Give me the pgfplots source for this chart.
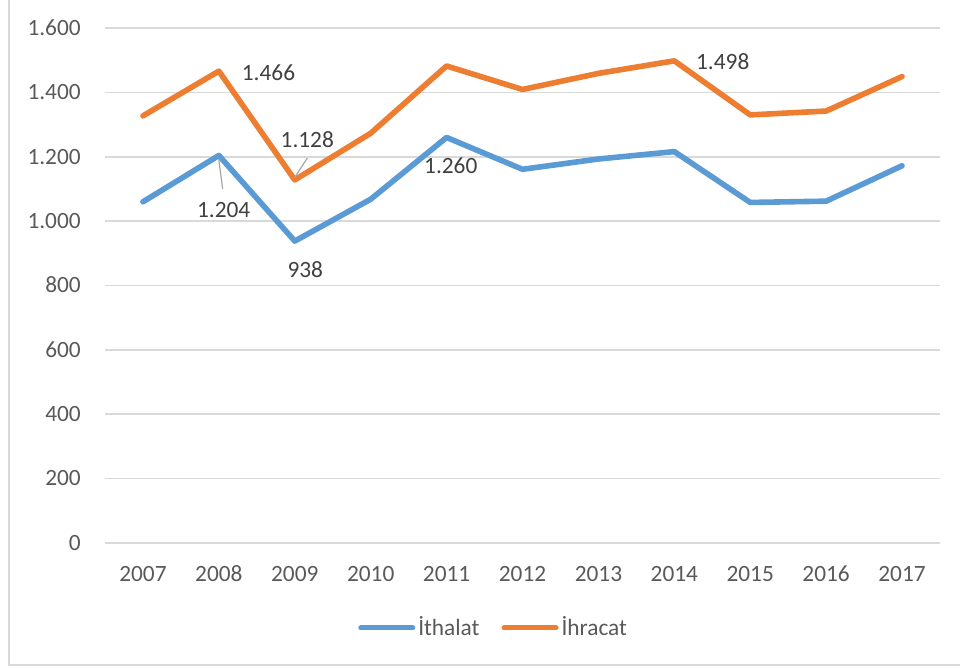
\documentclass[border=0pt]{standalone}
\usepackage{pgfplots}
\pgfplotsset{compat=1.18}
\usepackage{fontspec}
\setmainfont{Carlito}
\definecolor{cblue}{HTML}{5B9BD5}
\definecolor{corange}{HTML}{ED7D31}
\definecolor{cgrid}{HTML}{D9D9D9}
\definecolor{ctick}{HTML}{595959}
\definecolor{clabel}{HTML}{404040}
\definecolor{cleader}{HTML}{A6A6A6}
\begin{document}
\fontsize{17.5pt}{21pt}\selectfont
\begin{tikzpicture}[x=1pt,y=1pt]
\useasboundingbox (0,0) rectangle (720,501);
\draw[cgrid, line width=1pt] (6.75,501) -- (6.75,2.25) -- (720,2.25);
\begin{axis}[
  at={(78.75pt,93.75pt)}, anchor=south west,
  scale only axis, width=626.25pt, height=386.25pt,
  xmin=-0.5, xmax=10.5, ymin=0, ymax=1600,
  xtick={0,1,2,3,4,5,6,7,8,9,10},
  xticklabels={2007,2008,2009,2010,2011,2012,2013,2014,2015,2016,2017},
  ytick={0,200,400,600,800,1000,1200,1400,1600},
  scaled y ticks=false,
  /pgf/number format/assume math mode=true,
  /pgf/number format/1000 sep={.},
  axis line style={draw=none},
  major tick length=0pt,
  ymajorgrids, grid style={cgrid, line width=1.2pt},
  tick label style={font=\fontsize{17.5pt}{21pt}\selectfont, text=ctick, inner sep=0pt},
  xticklabel style={anchor=base, yshift=-29pt},
  yticklabel style={anchor=base east, xshift=-18pt, yshift=-5.5pt},
  legend style={at={(0.303,-0.165)}, anchor=west, draw=none, fill=none, inner sep=0pt,
    legend columns=2, font=\fontsize{17.5pt}{21pt}\selectfont, text=ctick,
    nodes={inner sep=0pt},
    /tikz/every odd column/.append style={column sep=2.25pt},
    /tikz/every even column/.append style={column sep=16.5pt}},
  legend cell align=left,
  legend image code/.code={\draw[#1, line width=3.75pt, line cap=round] (0pt,0pt) -- (39pt,0pt);},
  clip=false,
]
\addplot[cblue, line width=4.2pt, line cap=round, line join=round, mark=none] coordinates {
 (0,1060) (1,1204) (2,938) (3,1068) (4,1260) (5,1161) (6,1193) (7,1216) (8,1058) (9,1062) (10,1172)};
\addlegendentry{İthalat}
\addplot[corange, line width=4.2pt, line cap=round, line join=round, mark=none] coordinates {
 (0,1327) (1,1466) (2,1128) (3,1273) (4,1482) (5,1409) (6,1459) (7,1498) (8,1330) (9,1342) (10,1449)};
\addlegendentry{İhracat}
\draw[cleader, line width=0.9pt] (axis cs:1.0,1190) -- (axis cs:1.05,1100);
\draw[cleader, line width=0.9pt] (axis cs:2.165,1196) -- (axis cs:1.995,1134);
\begin{scope}[every node/.style={text=clabel, inner sep=0pt, anchor=center, font=\fontsize{17.5pt}{21pt}\selectfont}]
\node at (axis cs:1.654,1460) {1.466};
\node at (axis cs:2.165,1252) {1.128};
\node at (axis cs:1.063,1034) {1.204};
\node at (axis cs:2.139,848) {938};
\node at (axis cs:4.055,1171) {1.260};
\node at (axis cs:7.638,1494) {1.498};
\end{scope}
\end{axis}
\end{tikzpicture}
\end{document}
